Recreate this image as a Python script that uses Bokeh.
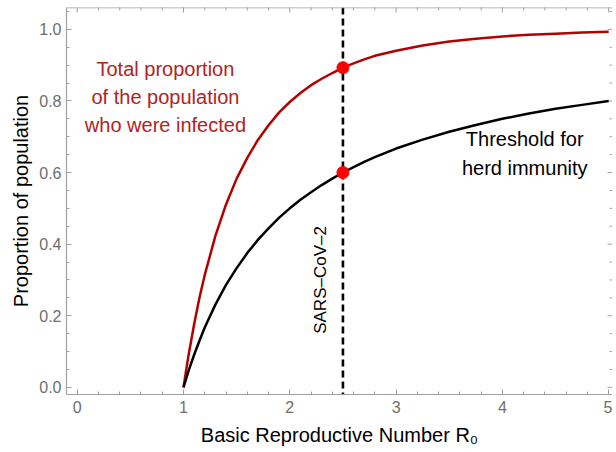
import math
from bokeh.plotting import figure
from bokeh.models import Range1d, SingleIntervalTicker, PrintfTickFormatter, Label, Span
from bokeh.embed import file_html
from bokeh.resources import INLINE

# ---- data ----
r0 = [1.0, 1.025, 1.05, 1.1, 1.15, 1.2, 1.3, 1.4, 1.5, 1.6, 1.7, 1.8, 1.9, 2.0,
      2.1, 2.2, 2.3, 2.4, 2.5, 2.6, 2.7, 2.8, 2.9, 3.0,
      3.25, 3.5, 3.75, 4.0, 4.25, 4.5, 4.75, 5.0]
infected = [0.0, 0.048, 0.094, 0.176, 0.250, 0.314, 0.423, 0.511, 0.583, 0.641, 0.691, 0.732, 0.768, 0.797,
            0.822, 0.844, 0.862, 0.878, 0.893, 0.905, 0.916, 0.926, 0.933, 0.940,
            0.955, 0.966, 0.974, 0.980, 0.985, 0.988, 0.991, 0.993]
threshold = [0.0, 0.024, 0.048, 0.091, 0.130, 0.167, 0.231, 0.286, 0.333, 0.375, 0.412, 0.444, 0.474, 0.500,
             0.524, 0.545, 0.565, 0.583, 0.600, 0.615, 0.630, 0.643, 0.655, 0.667,
             0.692, 0.714, 0.733, 0.750, 0.765, 0.778, 0.789, 0.800]
sars_r0 = 2.5
marker_r0 = [2.5, 2.5]
marker_y = [0.893, 0.600]

x_major = [0, 1, 2, 3, 4, 5]
y_major = [0.0, 0.2, 0.4, 0.6, 0.8, 1.0]

red_text = ["Total proportion", "of the population", "who were infected"]
black_text = ["Threshold for", "herd immunity"]
vline_text = "SARS\u2013CoV\u20132"
x_label = "Basic Reproductive Number R\u2080"
y_label = "Proportion of population"

FONT = "Liberation Sans"
TICK_COLOR = "#6e6e6e"
FRAME_COLOR = "#a0a0a0"

x0, x1 = -0.1007, 5.036
y0, y1 = -0.02, 1.061

x_minor = [i * 0.2 for i in range(0, 26) if i % 5 != 0]
y_minor = [i * 0.05 for i in range(0, 22) if i % 4 != 0]

p = figure(width=612, height=450, output_backend="svg", toolbar_location=None,
           x_range=Range1d(x0, x1), y_range=Range1d(y0, y1),
           min_border_left=66, min_border_right=0, min_border_top=7, min_border_bottom=56)
p.grid.visible = False
p.outline_line_color = None
p.background_fill_color = "white"
p.border_fill_color = "white"

for ax, ticker in ((p.xaxis[0], SingleIntervalTicker(interval=1, num_minor_ticks=5)),
                   (p.yaxis[0], SingleIntervalTicker(interval=0.2, num_minor_ticks=4))):
    ax.ticker = ticker
    ax.axis_line_color = FRAME_COLOR
    ax.axis_line_width = 1.2
    ax.major_tick_line_color = FRAME_COLOR
    ax.minor_tick_line_color = FRAME_COLOR
    ax.major_tick_in = 5
    ax.major_tick_out = 0
    ax.minor_tick_in = 3
    ax.minor_tick_out = 0
    ax.major_label_text_font = FONT
    ax.major_label_text_font_size = "16px"
    ax.major_label_text_color = TICK_COLOR
    ax.axis_label_text_font = FONT
    ax.axis_label_text_font_size = "20px"
    ax.axis_label_text_font_style = "normal"
    ax.axis_label_text_color = "black"

p.xaxis[0].major_label_standoff = 6
p.xaxis[0].formatter = PrintfTickFormatter(format="%d")
p.xaxis[0].axis_label = x_label
p.xaxis[0].axis_label_standoff = 8

p.yaxis[0].major_label_standoff = 5
p.yaxis[0].formatter = PrintfTickFormatter(format="%.1f")
p.yaxis[0].axis_label = y_label
p.yaxis[0].axis_label_standoff = 4

# top frame line
p.add_layout(Span(location=y1, dimension="width", line_color=FRAME_COLOR, line_width=1.5))

# mirror ticks on top and right edges (half of each dash lies inside the frame)
p.scatter(x_major, [y1] * len(x_major), marker="dash", angle=math.pi / 2, size=10,
          line_color=FRAME_COLOR, line_width=1)
p.scatter(x_minor, [y1] * len(x_minor), marker="dash", angle=math.pi / 2, size=6,
          line_color=FRAME_COLOR, line_width=1)
p.scatter([x1] * len(y_major), y_major, marker="dash", size=10,
          line_color=FRAME_COLOR, line_width=1)
p.scatter([x1] * len(y_minor), y_minor, marker="dash", size=6,
          line_color=FRAME_COLOR, line_width=1)

# dashed line for SARS-CoV-2
p.add_layout(Span(location=sars_r0, dimension="height", line_color="black",
                  line_width=2.6, line_dash="7 4", level="underlay"))

p.line(r0, infected, line_color="#b30000", line_width=2.5, line_join="round")
p.line(r0, threshold, line_color="black", line_width=2.5, line_join="round")
p.scatter(marker_r0, marker_y, size=12, color="#ff0000")

# annotations
for txt, yy in zip(red_text, [0.890, 0.812, 0.733]):
    p.add_layout(Label(x=0.83, y=yy, text=txt, text_align="center", text_baseline="alphabetic",
                       text_font=FONT, text_font_size="20px", text_color="#b22222"))
for txt, yy in zip(black_text, [0.694, 0.613]):
    p.add_layout(Label(x=4.21, y=yy, text=txt, text_align="center", text_baseline="alphabetic",
                       text_font=FONT, text_font_size="20px", text_color="black"))
p.add_layout(Label(x=2.29, y=0.30, text=vline_text, angle=math.pi / 2, text_align="center",
                   text_baseline="middle", text_font=FONT, text_font_size="17px", text_color="black"))

open("out.html", "w").write(file_html(p, INLINE))
